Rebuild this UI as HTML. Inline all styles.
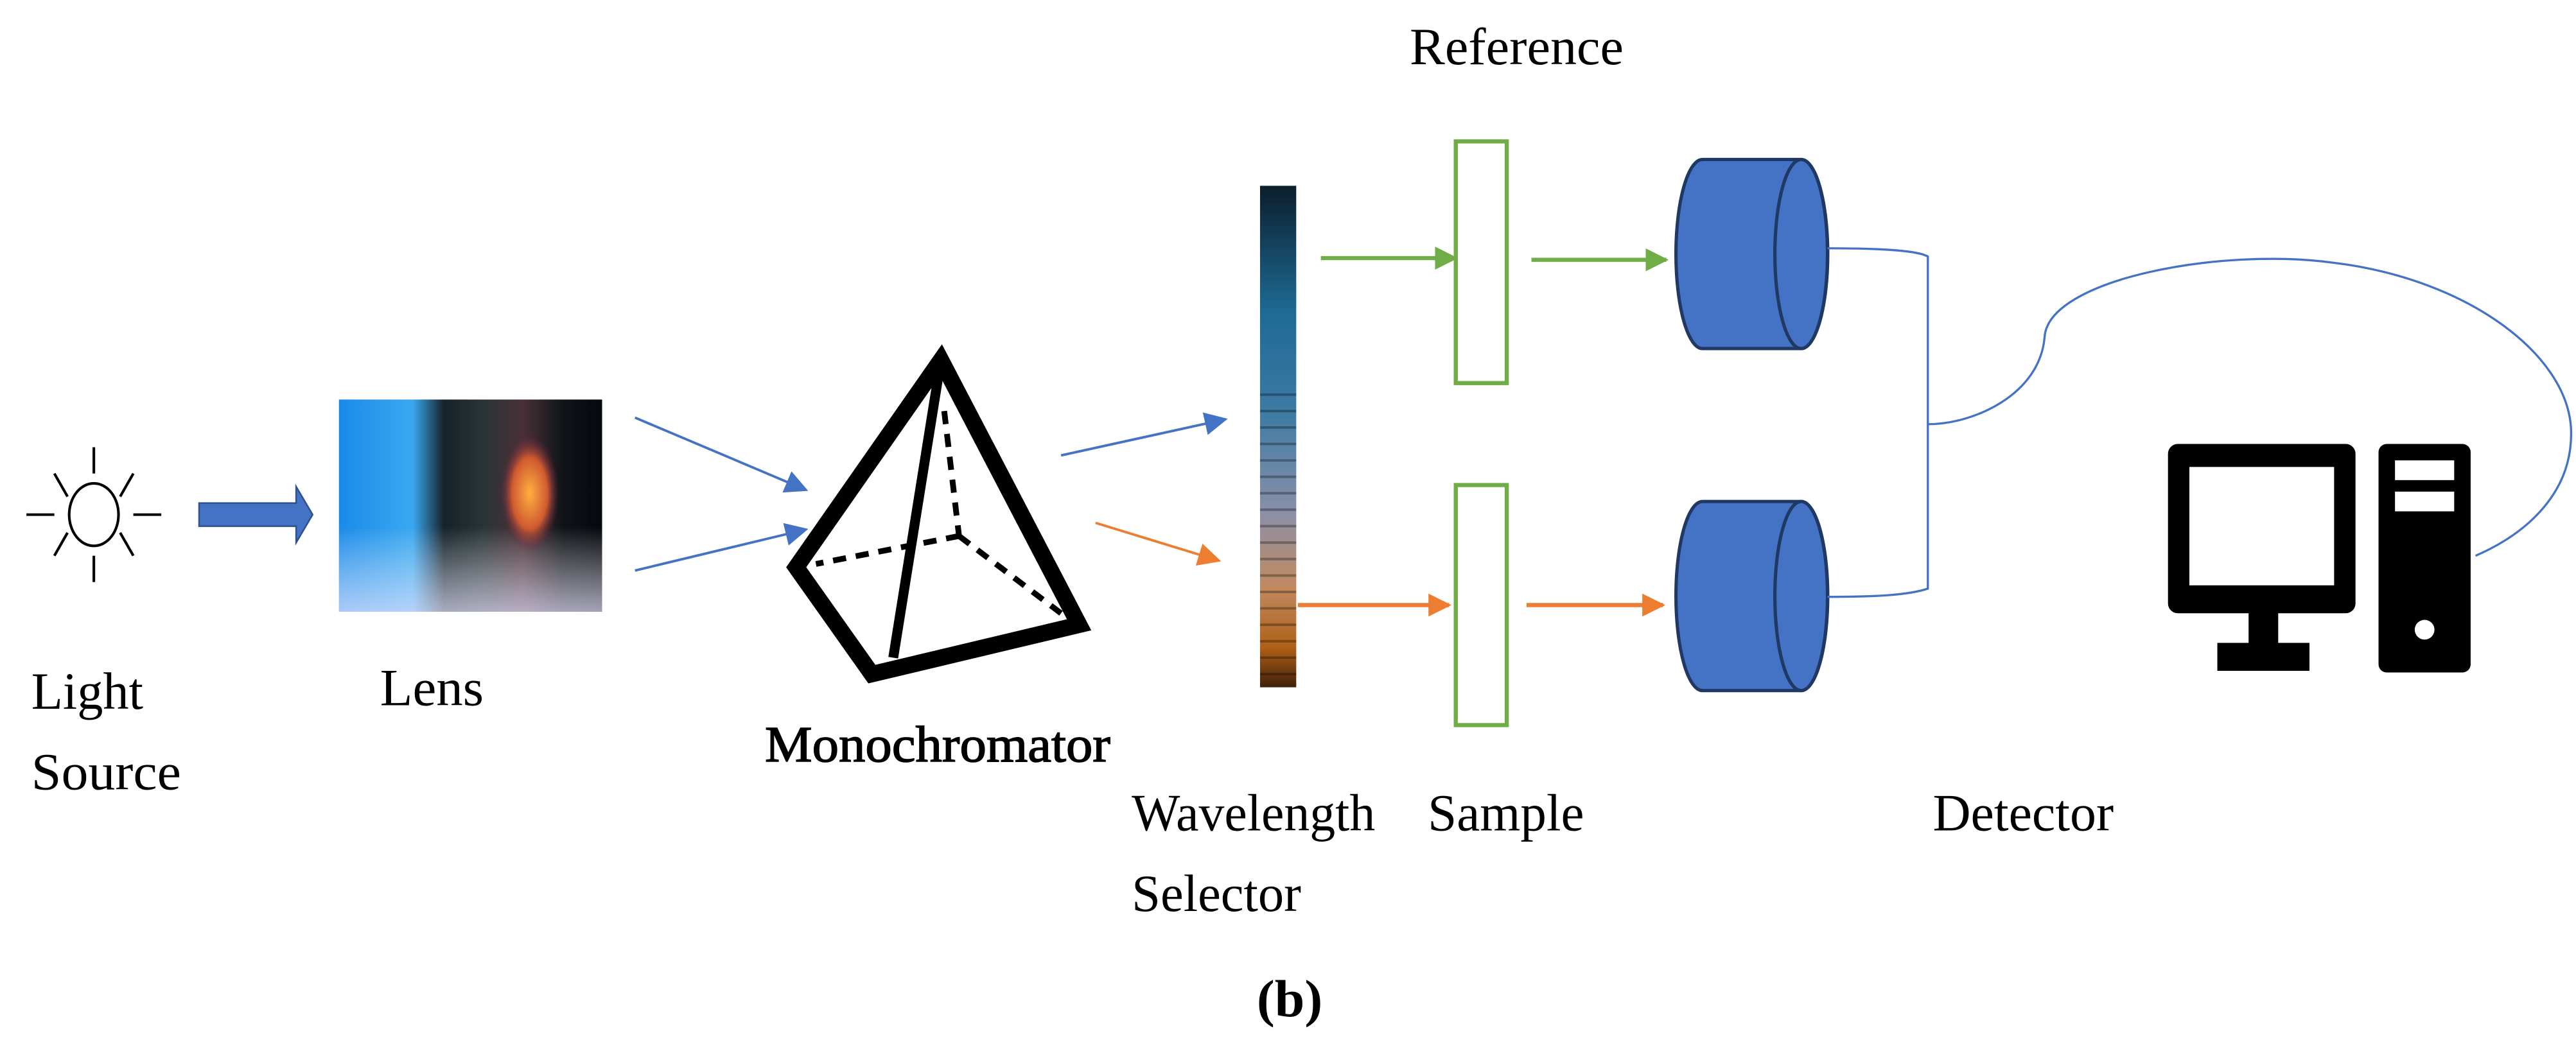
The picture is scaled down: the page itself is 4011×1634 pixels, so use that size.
<!DOCTYPE html>
<html><head><style>html,body{margin:0;padding:0;background:#fff}svg{display:block}</style></head>
<body>
<svg width="4011" height="1634" viewBox="0 0 1566 638" xmlns="http://www.w3.org/2000/svg">
<defs>
<marker id="abb" viewBox="0 0 10 10" refX="9" refY="5" markerWidth="14" markerHeight="14" markerUnits="userSpaceOnUse" orient="auto"><path d="M0,0L10,5L0,10z" fill="#4472c4"/></marker>
<marker id="ag" viewBox="0 0 10 10" refX="9" refY="5" markerWidth="14" markerHeight="14" markerUnits="userSpaceOnUse" orient="auto"><path d="M0,0L10,5L0,10z" fill="#70ad47"/></marker>
<marker id="ao" viewBox="0 0 10 10" refX="9" refY="5" markerWidth="14" markerHeight="14" markerUnits="userSpaceOnUse" orient="auto"><path d="M0,0L10,5L0,10z" fill="#ed7d31"/></marker>
<linearGradient id="lens" x1="0" y1="0" x2="1" y2="0">
<stop offset="0" stop-color="#1a8ae8"/><stop offset="0.28" stop-color="#3aa8f0"/><stop offset="0.4" stop-color="#152228"/><stop offset="0.55" stop-color="#2a3436"/><stop offset="0.7" stop-color="#4a3038"/><stop offset="0.85" stop-color="#101418"/><stop offset="1" stop-color="#05080c"/></linearGradient>
<linearGradient id="lensw" x1="0" y1="0" x2="0" y2="1"><stop offset="0.6" stop-color="#fff" stop-opacity="0"/><stop offset="1" stop-color="#e8e4ff" stop-opacity="0.7"/></linearGradient>
<radialGradient id="blob" cx="0.5" cy="0.5" r="0.5"><stop offset="0" stop-color="#ffb040"/><stop offset="0.6" stop-color="#d05a30"/><stop offset="1" stop-color="#602040" stop-opacity="0"/></radialGradient>
<linearGradient id="spec" x1="0" y1="0" x2="0" y2="1">
<stop offset="0" stop-color="#0c1e2c"/><stop offset="0.25" stop-color="#1d6a94"/><stop offset="0.45" stop-color="#3d7aa4"/><stop offset="0.65" stop-color="#8a90a8"/><stop offset="0.8" stop-color="#c08a60"/><stop offset="0.92" stop-color="#b06018"/><stop offset="1" stop-color="#402008"/></linearGradient>
</defs>

<g stroke="#000" stroke-width="1.6" fill="none">
<ellipse cx="57" cy="313" rx="15" ry="19"/>
<line x1="57" y1="272" x2="57" y2="288"/><line x1="57" y1="338" x2="57" y2="354"/>
<line x1="16" y1="313" x2="33" y2="313"/><line x1="81" y1="313" x2="98" y2="313"/>
<line x1="33" y1="288" x2="41" y2="302"/><line x1="81" y1="288" x2="73" y2="302"/>
<line x1="33" y1="338" x2="41" y2="324"/><line x1="81" y1="338" x2="73" y2="324"/>
</g>
<path d="M121,306H180V296L190,313L180,330V320H121z" fill="#4472c4" stroke="#2f528f" stroke-width="1"/>
<rect x="206" y="243" width="160" height="129" fill="url(#lens)"/>
<rect x="206" y="243" width="160" height="129" fill="url(#lensw)"/>
<ellipse cx="322" cy="300" rx="18" ry="36" fill="url(#blob)"/>
<line x1="386" y1="254" x2="490" y2="298" stroke="#4472c4" stroke-width="1.5" marker-end="url(#abb)"/>
<line x1="386" y1="347" x2="490" y2="322" stroke="#4472c4" stroke-width="1.5" marker-end="url(#abb)"/>
<g stroke="#000" fill="none">
<path d="M572,219L484,345L530,410L656,380z" stroke-width="10"/>
<line x1="572" y1="219" x2="543" y2="400" stroke-width="6"/>
<g stroke-dasharray="8,6" stroke-width="3.5"><line x1="574" y1="250" x2="583" y2="326"/><line x1="583" y1="326" x2="496" y2="343"/><line x1="583" y1="326" x2="645" y2="373"/></g>
</g>
<g font-family="'Liberation Serif','DejaVu Serif','Times New Roman',serif" fill="#000">
<text x="465" y="463" font-size="31" stroke="#000" stroke-width="0.6" textLength="210" lengthAdjust="spacingAndGlyphs">Monochromator</text>
<g font-size="32">
<text x="19" y="431" textLength="68" lengthAdjust="spacingAndGlyphs">Light</text>
<text x="19" y="480" textLength="91" lengthAdjust="spacingAndGlyphs">Source</text>
<text x="231" y="429" textLength="63" lengthAdjust="spacingAndGlyphs">Lens</text>
<text x="857" y="39" textLength="130" lengthAdjust="spacingAndGlyphs">Reference</text>
<text x="688" y="505" textLength="148" lengthAdjust="spacingAndGlyphs">Wavelength</text>
<text x="688" y="554" textLength="103" lengthAdjust="spacingAndGlyphs">Selector</text>
<text x="868" y="505" textLength="95" lengthAdjust="spacingAndGlyphs">Sample</text>
<text x="1175" y="505" textLength="110" lengthAdjust="spacingAndGlyphs">Detector</text>
<text x="764" y="618" font-weight="bold" textLength="40" lengthAdjust="spacingAndGlyphs">(b)</text>
</g>
</g>
<line x1="645" y1="277" x2="745" y2="255" stroke="#4472c4" stroke-width="1.5" marker-end="url(#abb)"/>
<line x1="666" y1="318" x2="741" y2="341" stroke="#ed7d31" stroke-width="1.5" marker-end="url(#ao)"/>
<rect x="766" y="113" width="22" height="305" fill="url(#spec)"/>
<g stroke="#000" stroke-opacity="0.3" stroke-width="1.5"><path d="M766,240H788M766,250H788M766,260H788M766,270H788M766,280H788M766,290H788M766,300H788M766,310H788M766,320H788M766,330H788M766,340H788M766,350H788M766,360H788M766,370H788M766,380H788M766,390H788M766,400H788M766,410H788"/></g>
<line x1="803" y1="157" x2="885" y2="157" stroke="#70ad47" stroke-width="2.5" marker-end="url(#ag)"/>
<line x1="931" y1="158" x2="1013" y2="158" stroke="#70ad47" stroke-width="2.5" marker-end="url(#ag)"/>
<line x1="789" y1="368" x2="881" y2="368" stroke="#ed7d31" stroke-width="2.5" marker-end="url(#ao)"/>
<line x1="928" y1="368" x2="1011" y2="368" stroke="#ed7d31" stroke-width="2.5" marker-end="url(#ao)"/>
<rect x="885" y="86" width="31" height="147" fill="#fff" stroke="#70ad47" stroke-width="2.5"/>
<rect x="885" y="295" width="31" height="146" fill="#fff" stroke="#70ad47" stroke-width="2.5"/>
<g fill="#4472c4" stroke="#1f3864" stroke-width="2">
<path d="M1035,97H1095A16,57 0 0 1 1095,212H1035A16,57 0 0 1 1035,97z"/>
<ellipse cx="1095" cy="154.5" rx="16" ry="57.5"/>
<path d="M1035,305H1095A16,57 0 0 1 1095,420H1035A16,57 0 0 1 1035,305z"/>
<ellipse cx="1095" cy="362.5" rx="16" ry="57.5"/>
</g>
<g stroke="#4472c4" stroke-width="1.3" fill="none">
<path d="M1111,151C1140,151 1165,152 1172,156V358C1160,362 1140,363 1111,363"/>
<path d="M1172,258C1200,258 1240,240 1243,205C1245,170 1350,150 1420,160C1500,170 1560,215 1563,260C1565,300 1535,325 1505,338"/>
</g>
<g fill="#000">
<rect x="1318" y="270" width="114" height="103" rx="6"/>
<rect x="1331" y="284" width="88" height="72" fill="#fff"/>
<rect x="1367" y="372" width="18" height="22"/>
<rect x="1348" y="391" width="56" height="17"/>
<rect x="1446" y="270" width="56" height="139" rx="5"/>
<rect x="1456" y="280" width="36" height="12" fill="#fff"/>
<rect x="1456" y="299" width="36" height="12" fill="#fff"/>
<circle cx="1474" cy="383" r="6" fill="#fff"/>
</g>
</svg>
</body></html>
